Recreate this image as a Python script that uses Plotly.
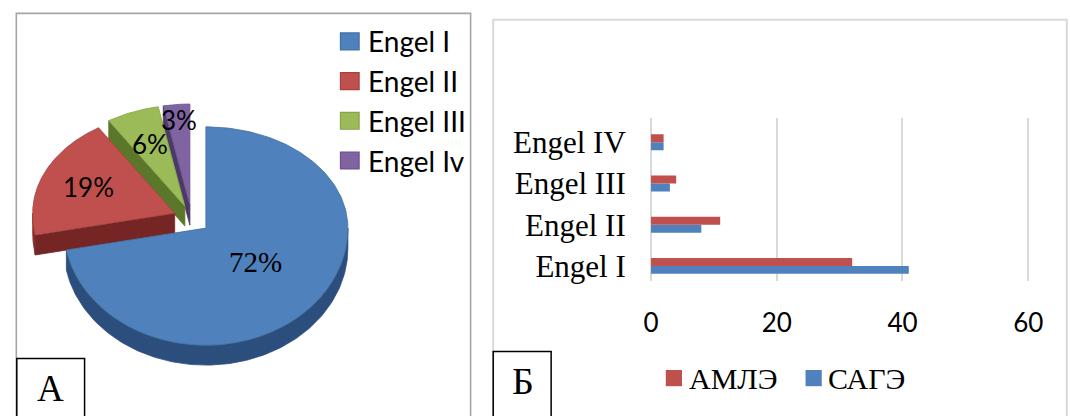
import numpy as np
import plotly.graph_objects as go

# ---- data -------------------------------------------------------------
pie_labels = ["Engel I", "Engel II", "Engel III", "Engel Iv"]
pie_values = [72, 19, 6, 3]

bar_categories = ["Engel I", "Engel II", "Engel III", "Engel IV"]
series_names = ["АМЛЭ", "САГЭ"]
amle_values = [32, 11, 4, 2]
sage_values = [41, 8, 3, 2]
x_ticks = [0, 20, 40, 60]

panel_letters = ["A", "Б"]

# ---- styling ----------------------------------------------------------
W, H = 1070, 416
SERIF = "Liberation Serif"
SANS = "Lato"

top_colors = ["#4f81bd", "#c0504d", "#9bbb59", "#8064a2"]
wall_colors = ["#2c4e7d", "#8c2f2d", "#6c8a36", "#5b4579"]
cut_colors = ["#28466f", "#752624", "#5b772a", "#4b3967"]
edge_colors = ["#41709f", "#a8403d", "#86a548", "#6d5391"]
bar_colors = {"АМЛЭ": "#c0504d", "САГЭ": "#4f81bd"}


def px(x):
    return x / W


def py(y):
    return 1 - y / H


# ---- 3-D exploded pie geometry (pixel-like coordinates on x2/y2) -------
RX, RY_BACK, RY_FRONT, DEPTH = 144.6, 102.0, 118.0, 20.0
PULL = 0.13
CX, CY = 189.0, 220.0


def rim(theta_deg, vx, vy, h=0.0):
    t = np.radians(theta_deg)
    s = np.sin(t)
    ry = RY_BACK if s > 0 else RY_FRONT
    return vx + RX * np.cos(t), vy - ry * s + h


total = float(sum(pie_values))
cum = np.concatenate([[0.0], np.cumsum(pie_values)])
slices = []
for i, v in enumerate(pie_values):
    th_hi = 90.0 - 360.0 * cum[i] / total
    th_lo = th_hi - 360.0 * v / total
    mid = 0.5 * (th_hi + th_lo)
    mx, my = rim(mid, 0.0, 0.0)
    vx, vy = CX + PULL * mx, CY + PULL * my
    slices.append(dict(hi=th_hi, lo=th_lo, mid=mid, vx=vx, vy=vy))

fig = go.Figure()


def add_poly(xs, ys, fill, line):
    fig.add_trace(go.Scatter(
        x=list(xs) + [xs[0]], y=list(ys) + [ys[0]],
        mode="lines", fill="toself", fillcolor=fill,
        line=dict(color=line, width=0.8),
        hoverinfo="skip", showlegend=False,
        xaxis="x2", yaxis="y2"))


# back slices first, the large front slice last
for i in reversed(range(len(pie_values))):
    s = slices[i]
    vx, vy = s["vx"], s["vy"]
    # outer wall: visible where the rim faces the viewer (sin < 0)
    th = list(np.linspace(s["lo"], s["hi"], 240))
    k0, k1 = int(np.ceil(s["lo"] / 180.0)), int(np.floor(s["hi"] / 180.0))
    th += [k * 180.0 for k in range(k0, k1 + 1)]
    th = sorted(set(th))
    runs, cur = [], []
    for t in th:
        if np.sin(np.radians(t)) <= 1e-9:
            cur.append(t)
        elif cur:
            runs.append(cur)
            cur = []
    if cur:
        runs.append(cur)
    for run in runs:
        if len(run) < 2:
            continue
        top = [rim(t, vx, vy) for t in run]
        bot = [rim(t, vx, vy, DEPTH) for t in reversed(run)]
        pts = top + bot
        add_poly([p[0] for p in pts], [p[1] for p in pts],
                 wall_colors[i], wall_colors[i])
    # radial cut faces that point toward the viewer
    for t, visible in ((s["hi"], np.cos(np.radians(s["hi"])) < -1e-6),
                       (s["lo"], np.cos(np.radians(s["lo"])) > 1e-6)):
        if visible:
            rx_, ry_ = rim(t, vx, vy)
            xs = [vx, rx_, rx_, vx]
            ys = [vy, ry_, ry_ + DEPTH, vy + DEPTH]
            add_poly(xs, ys, cut_colors[i], cut_colors[i])
    # top face
    arc = np.linspace(s["hi"], s["lo"], 240)
    pts = [(vx, vy)] + [rim(t, vx, vy) for t in arc]
    add_poly([p[0] for p in pts], [p[1] for p in pts],
             top_colors[i], edge_colors[i])

# percentage labels placed along each slice's bisector
label_radius = [0.45, 0.66, 0.66, 0.85]
label_fonts = [(SERIF, 29), (SANS, 26), (SANS, 26), (SANS, 26)]
annotations = []
for i, v in enumerate(pie_values):
    s = slices[i]
    mx, my = rim(s["mid"], 0.0, 0.0)
    lx = s["vx"] + label_radius[i] * mx
    ly = s["vy"] + label_radius[i] * my
    fam, size = label_fonts[i]
    annotations.append(dict(
        x=lx, y=ly, xref="x2", yref="y2", text=f"{v}%", showarrow=False,
        xanchor="center", yanchor="middle",
        font=dict(family=fam, size=size, color="#000000")))

# ---- horizontal grouped bars -----------------------------------------
fig.add_trace(go.Bar(
    y=bar_categories, x=sage_values, name=series_names[1], orientation="h",
    marker=dict(color=bar_colors["САГЭ"], line=dict(width=0)),
    hoverinfo="skip", showlegend=False))
fig.add_trace(go.Bar(
    y=bar_categories, x=amle_values, name=series_names[0], orientation="h",
    marker=dict(color=bar_colors["АМЛЭ"], line=dict(width=0)),
    hoverinfo="skip", showlegend=False))

X0_PX, UNIT_PX = 656.7, 6.4
x_lo, x_hi = -0.2, 60.3
bar_x_domain = [px(X0_PX + x_lo * UNIT_PX), px(X0_PX + x_hi * UNIT_PX)]
bar_y_domain = [py(283), py(119)]

shapes = []
# panel frames
shapes.append(dict(type="rect", xref="paper", yref="paper",
                   x0=px(10.5), x1=px(473), y0=py(425), y1=py(13.5),
                   line=dict(color="#a6a6a6", width=1.6), layer="below"))
shapes.append(dict(type="rect", xref="paper", yref="paper",
                   x0=px(496), x1=px(1080), y0=py(425), y1=py(20),
                   line=dict(color="#d9d9d9", width=2), layer="below"))
# letter boxes
shapes.append(dict(type="rect", xref="paper", yref="paper",
                   x0=px(11), x1=px(80), y0=py(425), y1=py(361),
                   line=dict(color="#000000", width=1.5)))
shapes.append(dict(type="rect", xref="paper", yref="paper",
                   x0=px(496), x1=px(555), y0=py(425), y1=py(354),
                   line=dict(color="#000000", width=1.5)))
annotations.append(dict(x=px(45), y=py(391), xref="paper", yref="paper",
                        xanchor="center", yanchor="middle",
                        text=panel_letters[0], showarrow=False,
                        font=dict(family=SERIF, size=37, color="#000")))
annotations.append(dict(x=px(526), y=py(384), xref="paper", yref="paper",
                        xanchor="center", yanchor="middle",
                        text=panel_letters[1], showarrow=False,
                        font=dict(family=SERIF, size=38, color="#000")))

# pie legend
for i, lab in enumerate(pie_labels):
    yc = 41.7 + 40 * i
    shapes.append(dict(type="rect", xref="paper", yref="paper",
                       x0=px(340.5), x1=px(359.5), y0=py(yc + 8.5), y1=py(yc - 8.5),
                       fillcolor=top_colors[i],
                       line=dict(color=edge_colors[i], width=1.2)))
    annotations.append(dict(x=px(366), y=py(yc), xref="paper", yref="paper",
                            xanchor="left", yanchor="middle",
                            text=lab, showarrow=False,
                            font=dict(family=SANS, size=28, color="#000")))

# bar legend
for name, sq_x, tx_x in ((series_names[0], 671.7, 693), (series_names[1], 814, 835)):
    shapes.append(dict(type="rect", xref="paper", yref="paper",
                       x0=px(sq_x), x1=px(sq_x + 16.5), y0=py(389), y1=py(372.7),
                       fillcolor=bar_colors[name], line=dict(width=0)))
    annotations.append(dict(x=px(tx_x), y=py(381), xref="paper", yref="paper",
                            xanchor="left", yanchor="middle",
                            text=name, showarrow=False,
                            font=dict(family=SERIF, size=30, color="#000")))

fig.update_layout(
    width=W, height=H,
    margin=dict(l=0, r=0, t=0, b=0),
    paper_bgcolor="#ffffff", plot_bgcolor="rgba(0,0,0,0)",
    barmode="group", bargap=0.614, bargroupgap=0.0,
    showlegend=False,
    xaxis=dict(domain=bar_x_domain, range=[x_lo, x_hi], tickvals=x_ticks,
               showgrid=True, gridcolor="#d9d9d9", gridwidth=2,
               zeroline=False, showline=False, ticks="",
               ticklabelstandoff=24,
               tickfont=dict(family=SANS, size=26, color="#000"),
               fixedrange=True),
    yaxis=dict(domain=bar_y_domain, range=[-0.366, 3.586],
               showgrid=False, zeroline=False, showline=False, ticks="",
               ticklabelstandoff=23,
               tickfont=dict(family=SERIF, size=31, color="#000"),
               fixedrange=True),
    xaxis2=dict(domain=[0, px(480)], range=[0, 480], visible=False,
                fixedrange=True, anchor="y2"),
    yaxis2=dict(domain=[0, 1], range=[H, 0], visible=False,
                fixedrange=True, anchor="x2"),
    shapes=shapes,
    annotations=annotations,
)

fig.write_html("out.html")
